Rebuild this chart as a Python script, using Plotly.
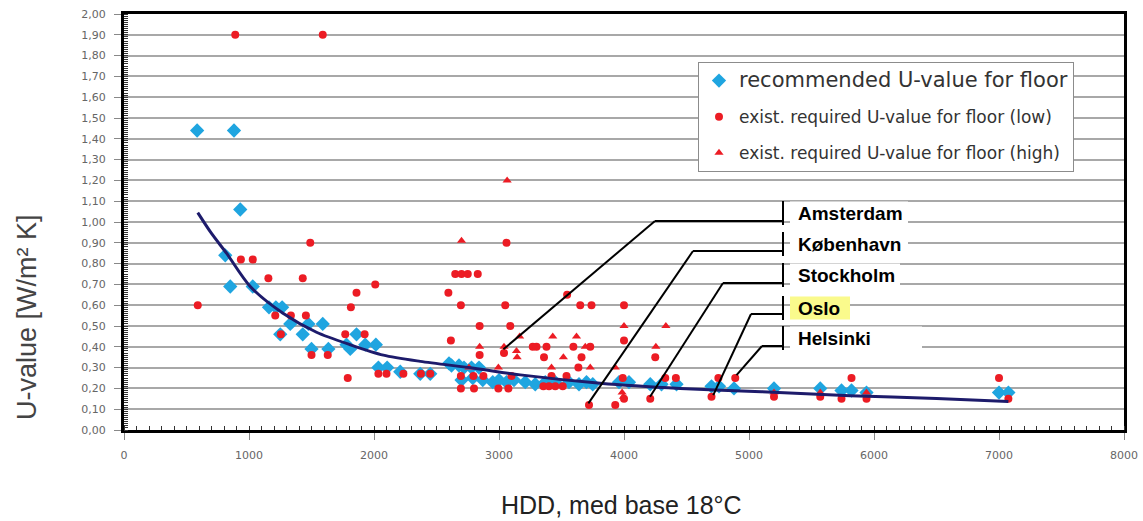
import plotly.graph_objects as go

# recommended U-values (blue diamonds)
rec_hdd = [585, 880, 930, 810, 850, 1030, 1160, 1215, 1265, 1330, 1250, 1430, 1475, 1500, 1590, 1635,
           1780, 1810, 1860, 1930, 2015, 2035, 2105, 2210, 2370, 2450, 2600, 2620, 2680, 2720, 2780,
           2840, 2700, 2790, 2870, 2950, 3000, 3060, 3120, 3210, 3290, 3370, 3450, 3560, 3640, 3700,
           3750, 3960, 4040, 4210, 4300, 4420, 4700, 4760, 4880, 5200, 5570, 5740, 5820, 5940, 7000, 7075]
rec_u = [1.44, 1.44, 1.06, 0.84, 0.69, 0.69, 0.59, 0.59, 0.59, 0.51, 0.46, 0.46, 0.51, 0.39, 0.51, 0.39,
         0.41, 0.39, 0.46, 0.41, 0.41, 0.30, 0.30, 0.28, 0.27, 0.27, 0.32, 0.31, 0.31, 0.30, 0.30,
         0.30, 0.24, 0.25, 0.24, 0.23, 0.24, 0.23, 0.24, 0.23, 0.22, 0.23, 0.23, 0.23, 0.22, 0.23,
         0.22, 0.23, 0.23, 0.22, 0.22, 0.22, 0.21, 0.21, 0.20, 0.20, 0.20, 0.19, 0.19, 0.18, 0.18, 0.18]

# existing required U-values, low (red dots)
low_hdd = [890, 1590, 1490, 590, 935, 1030, 1155, 1430, 1210, 1255, 1335, 1455, 1500, 1630, 1770, 1790,
           1815, 1860, 1925, 2010, 2035, 2100, 2235, 2375, 2450, 2595, 2615, 2650, 2700, 2750, 2830,
           2695, 3050, 3060, 2845, 3090, 2845, 3040, 3270, 3300, 3380, 3360, 3545, 3650, 3740, 3595,
           3730, 3660, 3635, 3720, 3930, 4000, 4000, 3990, 4000, 4210, 4250, 4330, 4415, 4700, 4755,
           4890, 5200, 5570, 5740, 5820, 5940, 7000, 7075, 2695, 2695, 2800, 2995, 3075, 2795, 2875,
           3100, 3355, 3400, 3450, 3510, 3540, 3420]
low_u = [1.90, 1.90, 0.90, 0.60, 0.82, 0.82, 0.73, 0.73, 0.55, 0.46, 0.55, 0.55, 0.36, 0.36, 0.46, 0.25,
         0.59, 0.66, 0.46, 0.70, 0.27, 0.27, 0.27, 0.27, 0.27, 0.66, 0.43, 0.75, 0.75, 0.75, 0.75,
         0.60, 0.60, 0.90, 0.50, 0.50, 0.36, 0.37, 0.40, 0.40, 0.40, 0.35, 0.65, 0.60, 0.60, 0.40,
         0.40, 0.35, 0.30, 0.12, 0.12, 0.60, 0.43, 0.25, 0.15, 0.15, 0.35, 0.25, 0.25, 0.16, 0.25,
         0.25, 0.16, 0.16, 0.15, 0.25, 0.15, 0.25, 0.15, 0.26, 0.20, 0.20, 0.20, 0.20, 0.26, 0.26,
         0.26, 0.21, 0.21, 0.21, 0.21, 0.26, 0.26]

# existing required U-values, high (red triangles)
high_hdd = [3065, 2700, 2845, 3040, 3165, 3140, 3145, 3430, 3420, 3515, 3620, 3690, 3730, 3930, 4000,
            3985, 3995, 4255, 4335, 2995, 5200, 5570, 5940, 2760]
high_u = [1.20, 0.91, 0.40, 0.40, 0.45, 0.38, 0.35, 0.45, 0.30, 0.35, 0.45, 0.40, 0.30, 0.30, 0.50,
          0.18, 0.16, 0.40, 0.50, 0.30, 0.18, 0.18, 0.18, 0.30]

# trend curve
curve_hdd = [590, 700, 820, 1010, 1275, 1540, 1810, 2075, 2370, 2800, 3170, 3810, 4450, 5100, 5810, 6500, 7075]
curve_u = [1.045, 0.945, 0.85, 0.69, 0.56, 0.47, 0.41, 0.36, 0.33, 0.297, 0.265, 0.225, 0.20, 0.184, 0.165, 0.152, 0.137]

# city call-outs
cities = ["Amsterdam", "København", "Stockholm", "Oslo", "Helsinki"]
city_hdd = [3035, 3715, 4208, 4714, 4900]
city_u = [0.388, 0.128, 0.16, 0.168, 0.264]

y_ticks = [i / 10 for i in range(21)]
x_ticks = [0, 1000, 2000, 3000, 4000, 5000, 6000, 7000, 8000]

BLUE = "#1fa5e0"
RED = "#ec1c24"
NAVY = "#1d1b6b"

# plot area in pixels (for placing the call-out boxes)
PL, PR, PT, PB = 124, 1124, 14, 430
X_MAX, Y_MAX = 8000, 2.0


def dx(px):
    return (px - PL) / (PR - PL) * X_MAX


def dy(py):
    return (PB - py) / (PB - PT) * Y_MAX


fig = go.Figure()
fig.add_trace(go.Scatter(
    x=rec_hdd, y=rec_u, mode="markers", legendgroup="a",
    name="<span style='font-size:21px'>recommended U-value for floor</span>",
    marker=dict(symbol="diamond", size=11, color=BLUE),
))
fig.add_trace(go.Scatter(
    x=low_hdd, y=low_u, mode="markers", legendgroup="b",
    name="exist. required U-value for floor (low)",
    marker=dict(symbol="circle", size=8, color=RED),
))
fig.add_trace(go.Scatter(
    x=high_hdd, y=high_u, mode="markers", legendgroup="c",
    name="exist. required U-value for floor (high)",
    marker=dict(symbol="triangle-up", size=8, color=RED),
))
fig.add_trace(go.Scatter(
    x=curve_hdd, y=curve_u, mode="lines", showlegend=False,
    line=dict(color=NAVY, width=3, shape="spline", smoothing=0.8),
))

# call-out layout (pixels)
label_cy = [213, 244, 275, 308, 338]
elbow_x = [655, 693, 723, 751, 762]
elbow_y = [221, 251, 283, 314, 346]
box_right = [908, 908, 900, 850, 922]
BAR_X = 783
for i, name in enumerate(cities):
    fill = "#fafa8c" if name == "Oslo" else "white"
    fig.add_shape(type="rect", layer="between", line=dict(width=0), fillcolor=fill,
                  x0=dx(790), x1=dx(box_right[i]), y0=dy(label_cy[i] - 11.5), y1=dy(label_cy[i] + 11.5))
    line = dict(color="black", width=2)
    fig.add_shape(type="line", line=line, x0=dx(BAR_X), x1=dx(BAR_X),
                  y0=dy(label_cy[i] - 12), y1=dy(label_cy[i] + 12))
    fig.add_shape(type="line", line=line, x0=dx(elbow_x[i]), x1=dx(BAR_X),
                  y0=dy(elbow_y[i]), y1=dy(elbow_y[i]))
    fig.add_shape(type="line", line=line, x0=dx(elbow_x[i]), y0=dy(elbow_y[i]),
                  x1=city_hdd[i], y1=city_u[i])
    fig.add_annotation(x=dx(796), y=dy(label_cy[i]), text=f"<b>{name}</b>", showarrow=False,
                       xanchor="left", yanchor="middle",
                       font=dict(family="Liberation Sans, Arial", size=19, color="black"))

fig.add_annotation(xref="paper", yref="paper", x=(621 - PL) / (PR - PL), y=-(505 - PB) / (PB - PT),
                   text="HDD, med base 18°C", showarrow=False, xanchor="center", yanchor="middle",
                   font=dict(family="Liberation Sans, Arial", size=25, color="#222"))
fig.add_annotation(xref="paper", yref="paper", x=-(124 - 27) / (PR - PL), y=(PB - 317) / (PB - PT),
                   text="U-value [W/m² K]", showarrow=False, textangle=-90,
                   xanchor="center", yanchor="middle",
                   font=dict(family="Liberation Sans, Arial", size=27, color="#444"))

fig.update_xaxes(
    range=[0, X_MAX], tickvals=x_ticks, tickformat="d", showgrid=False, zeroline=False,
    showline=True, linewidth=3, linecolor="black", mirror=True,
    ticks="outside", ticklen=7, tickcolor="#888", ticklabelstandoff=6,
    tickfont=dict(family="DejaVu Sans", size=11, color="#666"),
    minor=dict(dtick=100, ticks="inside", ticklen=4, tickcolor="#333"),
)
fig.update_yaxes(
    range=[0, Y_MAX], tickvals=y_ticks, tickformat=".2f", showgrid=True,
    gridcolor="#a8a8a8", gridwidth=1.5, zeroline=False,
    showline=True, linewidth=3, linecolor="black", mirror=True,
    ticks="outside", ticklen=7, tickcolor="#888", ticklabelstandoff=6,
    tickfont=dict(family="DejaVu Sans", size=11, color="#666"),
    minor=dict(dtick=0.01, ticks="inside", ticklen=4, tickcolor="#333", showgrid=False),
)
fig.update_layout(
    width=1143, height=521, autosize=False,
    margin=dict(l=PL, r=1143 - PR, t=PT, b=521 - PB, autoexpand=False),
    plot_bgcolor="white", paper_bgcolor="white", separators=", ",
    legend=dict(x=(698 - PL) / (PR - PL), y=(PB - 62) / (PB - PT), xanchor="left", yanchor="top",
                bgcolor="white", bordercolor="#8c8c8c", borderwidth=1, tracegroupgap=11,
                font=dict(family="DejaVu Sans", size=17, color="#333")),
)
fig.write_html("out.html", config={"displayModeBar": False},
               post_script="document.body.style.margin = '0';")
